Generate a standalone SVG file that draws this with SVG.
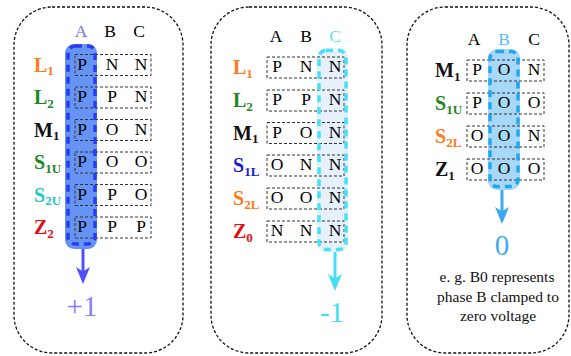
<svg xmlns="http://www.w3.org/2000/svg" width="571" height="356" viewBox="0 0 571 356">
<style>
.panel{fill:none;stroke:#111;stroke-width:1.3;stroke-dasharray:3 2;}
.row{fill:none;stroke:#333;stroke-width:1;stroke-dasharray:3 2;}
.cell{font-size:17.5px;fill:#000;text-anchor:middle;}
.hdr{font-size:17.5px;fill:#000;text-anchor:middle;}
.lab{font-size:20px;font-weight:bold;}
.sub{font-size:13px;}
.big{font-size:29px;text-anchor:middle;}
.cap{font-size:15.5px;fill:#111;text-anchor:middle;}
.or{fill:#ff7a1a}.gr{fill:#1e871e}.bk{fill:#111}.te{fill:#22c8c4}.rd{fill:#dd1111}.bl{fill:#1a1acc}
</style>
<defs>
<path id="ah" d="M0,0 L-7,-17 L0,-12.5 L7,-17 Z"/>
</defs>

<g id="panel1" font-family="Liberation Serif">
<rect class="panel" x="14" y="7" width="169" height="346" rx="38"/>
<rect x="65" y="44" width="32" height="205" rx="9" fill="#6694f5"/>
<rect class="row" x="75" y="54.5" width="76" height="21"/>
<rect class="row" x="75" y="87" width="76" height="21"/>
<rect class="row" x="75" y="119.5" width="76" height="21"/>
<rect class="row" x="75" y="152" width="76" height="21"/>
<rect class="row" x="75" y="184.5" width="76" height="21"/>
<rect class="row" x="75" y="217" width="76" height="21"/>
<rect x="68" y="46" width="27" height="198" rx="7" fill="none" stroke="#2a3cf2" stroke-width="3.5" stroke-dasharray="7 5"/>
<text class="hdr" x="81" y="37" style="fill:#7070ff">A</text>
<text class="hdr" x="110" y="37">B</text>
<text class="hdr" x="139" y="37">C</text>
<text class="lab or" x="34" y="71.5">L<tspan class="sub" dy="3.5">1</tspan></text>
<text class="lab gr" x="34" y="104">L<tspan class="sub" dy="3.5">2</tspan></text>
<text class="lab bk" x="34" y="136.5">M<tspan class="sub" dy="3.5">1</tspan></text>
<text class="lab gr" x="34" y="169">S<tspan class="sub" dy="3.5">1U</tspan></text>
<text class="lab te" x="34" y="201.5">S<tspan class="sub" dy="3.5">2U</tspan></text>
<text class="lab rd" x="34" y="234">Z<tspan class="sub" dy="3.5">2</tspan></text>
<text class="cell" x="82" y="69.5">P</text><text class="cell" x="112" y="69.5">N</text><text class="cell" x="141" y="69.5">N</text>
<text class="cell" x="82" y="102">P</text><text class="cell" x="112" y="102">P</text><text class="cell" x="141" y="102">N</text>
<text class="cell" x="82" y="134.5">P</text><text class="cell" x="112" y="134.5">O</text><text class="cell" x="141" y="134.5">N</text>
<text class="cell" x="82" y="167">P</text><text class="cell" x="112" y="167">O</text><text class="cell" x="141" y="167">O</text>
<text class="cell" x="82" y="199.5">P</text><text class="cell" x="112" y="199.5">P</text><text class="cell" x="141" y="199.5">O</text>
<text class="cell" x="82" y="232">P</text><text class="cell" x="112" y="232">P</text><text class="cell" x="141" y="232">P</text>
<text class="big" x="82" y="316" style="fill:#8080ff">+1</text>
</g>

<g id="panel2" font-family="Liberation Serif">
<rect class="panel" x="211" y="7" width="171" height="346" rx="38"/>
<rect x="317" y="48" width="31" height="204" rx="9" fill="#e6f1fc"/>
<rect class="row" x="267" y="57" width="77" height="21"/>
<rect class="row" x="267" y="90" width="77" height="21"/>
<rect class="row" x="267" y="122.5" width="77" height="21"/>
<rect class="row" x="267" y="155" width="77" height="21"/>
<rect class="row" x="267" y="188" width="77" height="21"/>
<rect class="row" x="267" y="221" width="77" height="21"/>
<rect x="319" y="50.5" width="27" height="199" rx="7" fill="none" stroke="#44e2f4" stroke-width="3.5" stroke-dasharray="7 5"/>
<text class="hdr" x="276" y="42">A</text>
<text class="hdr" x="306" y="42">B</text>
<text class="hdr" x="335" y="42" style="fill:#55e6f8">C</text>
<text class="lab or" x="233" y="74">L<tspan class="sub" dy="3.5">1</tspan></text>
<text class="lab gr" x="233" y="107">L<tspan class="sub" dy="3.5">2</tspan></text>
<text class="lab bk" x="233" y="139.5">M<tspan class="sub" dy="3.5">1</tspan></text>
<text class="lab bl" x="233" y="172">S<tspan class="sub" dy="3.5">1L</tspan></text>
<text class="lab or" x="233" y="205">S<tspan class="sub" dy="3.5">2L</tspan></text>
<text class="lab rd" x="233" y="238">Z<tspan class="sub" dy="3.5">0</tspan></text>
<text class="cell" x="277" y="72">P</text><text class="cell" x="306" y="72">N</text><text class="cell" x="335" y="72">N</text>
<text class="cell" x="277" y="105">P</text><text class="cell" x="306" y="105">P</text><text class="cell" x="335" y="105">N</text>
<text class="cell" x="277" y="137.5">P</text><text class="cell" x="306" y="137.5">O</text><text class="cell" x="335" y="137.5">N</text>
<text class="cell" x="277" y="170">O</text><text class="cell" x="306" y="170">N</text><text class="cell" x="335" y="170">N</text>
<text class="cell" x="277" y="203">O</text><text class="cell" x="306" y="203">O</text><text class="cell" x="335" y="203">N</text>
<text class="cell" x="277" y="236">N</text><text class="cell" x="306" y="236">N</text><text class="cell" x="335" y="236">N</text>
<text class="big" x="332" y="322" style="fill:#44e0f2">-1</text>
</g>

<g id="panel3" font-family="Liberation Serif">
<rect class="panel" x="407" y="7" width="162" height="346" rx="38"/>
<rect x="488" y="49" width="32" height="141" rx="9" fill="#a8d8f8"/>
<rect class="row" x="467" y="60" width="77" height="21"/>
<rect class="row" x="467" y="93" width="77" height="21"/>
<rect class="row" x="467" y="126" width="77" height="21"/>
<rect class="row" x="467" y="159" width="77" height="21"/>
<rect x="490" y="51.5" width="28" height="135" rx="7" fill="none" stroke="#1fa8ee" stroke-width="3.5" stroke-dasharray="7 5"/>
<text class="hdr" x="474" y="44.5">A</text>
<text class="hdr" x="504" y="44.5" style="fill:#55bbf5">B</text>
<text class="hdr" x="534" y="44.5">C</text>
<text class="lab bk" x="435" y="77">M<tspan class="sub" dy="3.5">1</tspan></text>
<text class="lab gr" x="435" y="110">S<tspan class="sub" dy="3.5">1U</tspan></text>
<text class="lab or" x="435" y="143">S<tspan class="sub" dy="3.5">2L</tspan></text>
<text class="lab bk" x="435" y="176">Z<tspan class="sub" dy="3.5">1</tspan></text>
<text class="cell" x="477" y="75">P</text><text class="cell" x="504" y="75">O</text><text class="cell" x="534" y="75">N</text>
<text class="cell" x="477" y="108">P</text><text class="cell" x="504" y="108">O</text><text class="cell" x="534" y="108">O</text>
<text class="cell" x="477" y="141">O</text><text class="cell" x="504" y="141">O</text><text class="cell" x="534" y="141">N</text>
<text class="cell" x="477" y="174">O</text><text class="cell" x="504" y="174">O</text><text class="cell" x="534" y="174">O</text>
<text class="big" x="502" y="255" style="fill:#44aaee">0</text>
<text class="cap" x="497" y="282">e. g. B0 represents</text>
<text class="cap" x="498" y="302">phase B clamped to</text>
<text class="cap" x="498" y="321">zero voltage</text>
</g>

<g id="connectors">
<line x1="83" y1="249" x2="83" y2="275" stroke="#5050ff" stroke-width="3"/>
<use href="#ah" transform="translate(83,284)" fill="#5050ff"/>
<line x1="335" y1="252" x2="335" y2="282" stroke="#44dff2" stroke-width="3"/>
<use href="#ah" transform="translate(335,291)" fill="#44dff2"/>
<line x1="502" y1="190" x2="502" y2="215" stroke="#3aa8ee" stroke-width="3"/>
<use href="#ah" transform="translate(502,224)" fill="#3aa8ee"/>
</g>
</svg>
